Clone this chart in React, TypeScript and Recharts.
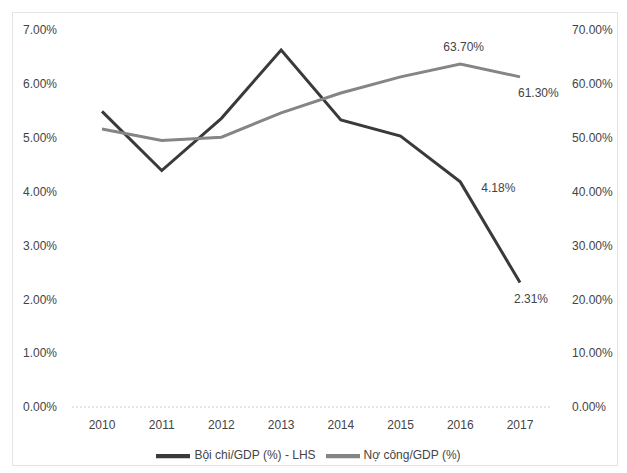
import { CartesianGrid, Legend, Line, LineChart, XAxis, YAxis } from "recharts";

const years = ["2010", "2011", "2012", "2013", "2014", "2015", "2016", "2017"];
const deficit = [5.49, 4.39, 5.36, 6.63, 5.33, 5.03, 4.18, 2.31];
const debt = [51.6, 49.5, 50.1, 54.6, 58.3, 61.3, 63.7, 61.3];
const leftTicks = [0, 1, 2, 3, 4, 5, 6, 7];
const rightTicks = [0, 10, 20, 30, 40, 50, 60, 70];
const labelled = [6, 7];

const data = years.map((year, i) => ({
  year,
  deficit: deficit[i],
  debt: debt[i],
}));

const font = "'Liberation Sans', Arial, sans-serif";
const textColor = "#444";

const deficitLabel = (props: any) => {
  const { x, y, value, index } = props;
  if (!labelled.includes(index)) return null;
  const dx = index === 6 ? 21 : -6;
  const dy = index === 6 ? 10 : 20;
  return (
    <text x={x + dx} y={y + dy} fontSize={12} fill={textColor} fontFamily={font}>
      {value.toFixed(2)}%
    </text>
  );
};

const debtLabel = (props: any) => {
  const { x, y, value, index } = props;
  if (!labelled.includes(index)) return null;
  const dx = index === 6 ? -17 : -2;
  const dy = index === 6 ? -13 : 20;
  return (
    <text x={x + dx} y={y + dy} fontSize={12} fill={textColor} fontFamily={font}>
      {value.toFixed(2)}%
    </text>
  );
};

const App = () => {
  return (
    <div style={{ position: "absolute", left: 0, top: 0, width: 627, height: 473 }}>
      <div
        style={{
          position: "absolute",
          left: 12,
          top: 12,
          width: 604,
          height: 452,
          border: "1px solid #e4e4e4",
        }}
      />
      <LineChart
        width={627}
        height={473}
        data={data}
        margin={{ top: 30, right: 0, left: 0, bottom: 0 }}
        style={{ fontFamily: font }}
      >
        <CartesianGrid vertical={false} horizontal={false} />
        <XAxis
          dataKey="year"
          padding={{ left: 30, right: 30 }}
          axisLine={{ stroke: "#d0d0d0", strokeDasharray: "2 2" }}
          tickLine={false}
          tick={{ fill: textColor, fontSize: 12 }}
          tickMargin={7}
          height={32}
        />
        <YAxis
          yAxisId="left"
          domain={[0, 7]}
          ticks={leftTicks}
          width={72}
          axisLine={false}
          tickLine={false}
          tickMargin={9}
          tick={{ fill: textColor, fontSize: 12 }}
          tickFormatter={(v: number) => `${v.toFixed(2)}%`}
        />
        <YAxis
          yAxisId="right"
          orientation="right"
          domain={[0, 70]}
          ticks={rightTicks}
          width={77}
          axisLine={false}
          tickLine={false}
          tickMargin={16}
          tick={{ fill: textColor, fontSize: 12 }}
          tickFormatter={(v: number) => `${v.toFixed(2)}%`}
        />
        <Legend
          verticalAlign="bottom"
          iconType="plainline"
          iconSize={34}
          wrapperStyle={{ fontSize: 12, color: textColor }}
          formatter={(value: string) => <span style={{ color: textColor }}>{value}</span>}
        />
        <Line
          yAxisId="left"
          type="linear"
          dataKey="deficit"
          name="Bội chi/GDP (%) - LHS"
          stroke="#3a3a3a"
          strokeWidth={3}
          dot={false}
          activeDot={false}
          isAnimationActive={false}
          label={deficitLabel}
        />
        <Line
          yAxisId="right"
          type="linear"
          dataKey="debt"
          name="Nợ công/GDP (%)"
          stroke="#858585"
          strokeWidth={3}
          dot={false}
          activeDot={false}
          isAnimationActive={false}
          label={debtLabel}
        />
      </LineChart>
    </div>
  );
};

export default App;
